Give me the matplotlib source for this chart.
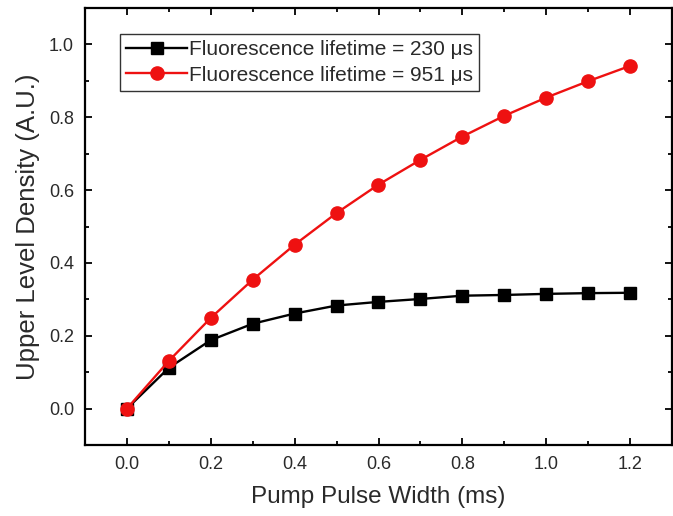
import numpy as np
import matplotlib.pyplot as plt
from matplotlib.ticker import MultipleLocator

# pump pulse width (ms) and computed upper level density
pulse_width = [0.0, 0.1, 0.2, 0.3, 0.4, 0.5, 0.6, 0.7, 0.8, 0.9, 1.0, 1.1, 1.2]
density_230 = [0.0, 0.112, 0.188, 0.233, 0.261, 0.283, 0.293, 0.301, 0.310, 0.312, 0.315, 0.317, 0.318]
density_951 = [0.0, 0.131, 0.249, 0.354, 0.450, 0.537, 0.615, 0.683, 0.747, 0.804, 0.854, 0.899, 0.941]
labels = ["Fluorescence lifetime = 230 \u03bcs", "Fluorescence lifetime = 951 \u03bcs"]

plt.rcParams['font.family'] = ['Liberation Sans', 'DejaVu Sans']
text_col = '#2a2a2a'

fig = plt.figure(figsize=(6.73, 5.16), dpi=100)
ax = fig.add_axes([85 / 673, 1 - 445 / 516, 587 / 673, 437 / 516])

ax.plot(pulse_width, density_230, '-s', color='black', lw=1.7, ms=9, label=labels[0])
ax.plot(pulse_width, density_951, '-o', color='#ee1111', lw=1.7, ms=9.5, label=labels[1])

ax.set_xlim(-0.1, 1.3)
ax.set_ylim(-0.1, 1.1)
ax.xaxis.set_minor_locator(MultipleLocator(0.1))
ax.yaxis.set_minor_locator(MultipleLocator(0.1))
ax.set_xticks(np.arange(0, 1.21, 0.2))
ax.set_yticks(np.arange(0, 1.01, 0.2))
ax.xaxis.set_major_formatter(lambda v, p: f"{v:.1f}")
ax.yaxis.set_major_formatter(lambda v, p: f"{v:.1f}")

ax.tick_params(which='both', direction='in', top=True, right=True, width=1.3,
               labelsize=13, labelcolor=text_col, pad=8)
ax.tick_params(which='major', length=5)
ax.tick_params(which='minor', length=3)
for sp in ax.spines.values():
    sp.set_linewidth(1.6)

ax.set_xlabel("Pump Pulse Width (ms)", fontsize=17.5, color=text_col, labelpad=9)
ax.set_ylabel("Upper Level Density (A.U.)", fontsize=18.5, color=text_col, labelpad=6)

leg = ax.legend(loc='upper left', bbox_to_anchor=(0.06, 0.94), fontsize=15,
                frameon=True, fancybox=False, edgecolor='black', handlelength=2.9,
                handletextpad=0.1, borderpad=0.3, labelspacing=0.3, borderaxespad=0)
leg.get_frame().set_linewidth(1.0)
for t in leg.get_texts():
    t.set_color(text_col)

fig.savefig("out.png", dpi=100)
